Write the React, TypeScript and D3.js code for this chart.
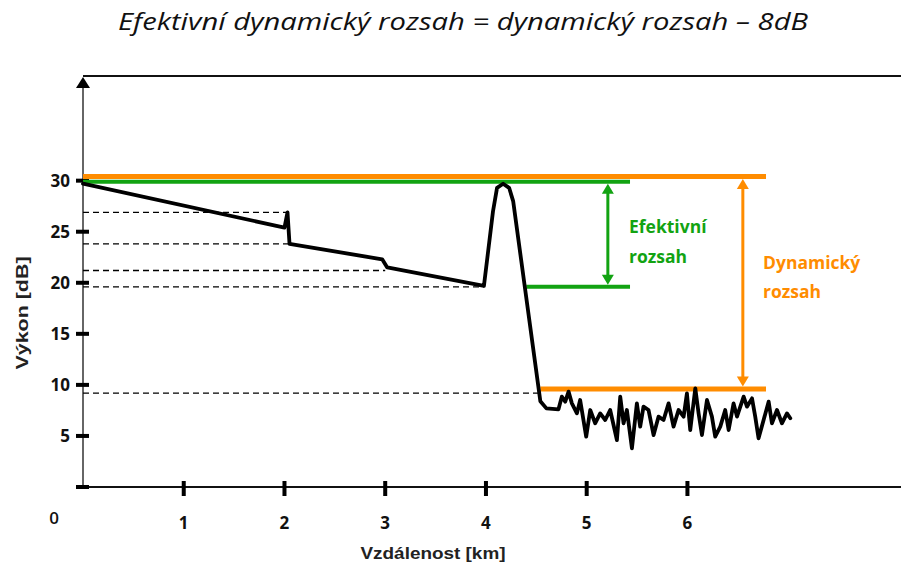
import React from 'react';
import * as d3 from 'd3';

// Trace of the OTDR measurement: distance [km] and power [dB]
const traceKm = [
    0, 2.0, 2.03, 2.05, 2.97, 3.02, 3.98, 4.07, 4.11, 4.17, 4.23, 4.27, 4.54, 4.6,
    4.72, 4.753, 4.787, 4.82, 4.853, 4.903, 4.935, 4.995, 5.035, 5.084, 5.134, 5.184,
    5.233, 5.3, 5.333, 5.366, 5.399, 5.449, 5.498, 5.531, 5.564, 5.614, 5.664, 5.713,
    5.763, 5.813, 5.862, 5.912, 5.962, 5.995, 6.028, 6.078, 6.111, 6.144, 6.194, 6.243,
    6.276, 6.326, 6.375, 6.409, 6.458, 6.492, 6.558, 6.591, 6.641, 6.673, 6.706, 6.756,
    6.806, 6.839, 6.889, 6.938, 6.988, 7.021
];
const traceDb = [
    29.7, 25.4, 26.9, 23.8, 22.3, 21.5, 19.7, 27.0, 29.3, 29.7, 29.3, 28.0, 8.4, 7.7,
    7.61, 8.85, 8.36, 9.34, 8.19, 7.21, 8.52, 4.93, 7.54, 6.24, 7.21, 6.56,
    7.54, 4.6, 8.85, 6.24, 7.54, 3.79, 8.19, 5.91, 7.87, 7.54, 5.09, 6.89,
    6.56, 8.19, 5.91, 7.54, 6.89, 9.17, 5.58, 9.66, 7.21, 5.09, 8.52, 6.89,
    4.93, 5.91, 7.54, 5.58, 8.19, 6.89, 8.85, 7.87, 8.68, 6.89, 4.77, 6.56,
    8.36, 6.24, 7.54, 6.24, 7.21, 6.73
];

// Dashed reference levels and the distance where each one stops
const dashDb = [26.9, 23.8, 21.2, 19.6, 9.2];
const dashEndKm = [2.03, 2.05, 3.0, 3.98, 4.54];

// Range bars
const orangeTopDb = 30.4;
const orangeBottomDb = 9.6;
const greenTopDb = 29.9;
const greenBottomDb = 19.6;
const greenBottomStartKm = 4.4;
const greenEndKm = 5.43;
const orangeBottomStartKm = 4.54;
const orangeEndKm = 6.78;
const greenArrowKm = 5.21;
const orangeArrowKm = 6.55;

const yTicks = [0, 5, 10, 15, 20, 25, 30];
const xTicks = [1, 2, 3, 4, 5, 6];

const titleText = 'Efektivní dynamický rozsah = dynamický rozsah – 8dB';
const xTitle = 'Vzdálenost [km]';
const yTitle = 'Výkon [dB]';
const greenLabel = ['Efektivní', 'rozsah'];
const orangeLabel = ['Dynamický', 'rozsah'];

const GREEN = '#12a312';
const ORANGE = '#ff8c00';

const App: React.FC = () => {
    const width = 901;
    const height = 564;

    const x = d3.scaleLinear().domain([0, 8.12]).range([83, 901]);
    const y = d3.scaleLinear().domain([0, 40.25]).range([487, 76]);

    const line = d3.line<number>()
        .x((_, i) => x(traceKm[i]))
        .y(d => y(d));

    const tickFont = "'Open Sans', 'Noto Sans', sans-serif";
    const titleFont = "'Liberation Sans', Arial, sans-serif";

    const arrow = (cx: number, yTop: number, yBot: number, color: string) => {
        const head = 9;
        const half = 6;
        return (
            <g>
                <line x1={cx} x2={cx} y1={yTop + head} y2={yBot - head}
                    stroke={color} strokeWidth={3} />
                <path d={`M${cx},${yTop} L${cx - half},${yTop + head + 1} L${cx + half},${yTop + head + 1} Z`} fill={color} />
                <path d={`M${cx},${yBot} L${cx - half},${yBot - head - 1} L${cx + half},${yBot - head - 1} Z`} fill={color} />
            </g>
        );
    };

    return (
        <svg width={width} height={height}
            style={{ position: 'absolute', left: 0, top: 0, background: '#ffffff' }}>

            {/* Title */}
            <text x={463} y={30} textAnchor="middle" fontFamily="'Open Sans', 'Noto Sans', sans-serif"
                fontStyle="italic" fontSize={23} fill="#111"
                textLength={690} lengthAdjust="spacingAndGlyphs">
                {titleText}
            </text>

            {/* Frame: top line, y axis with arrow, x axis */}
            <line x1={x(0)} x2={width} y1={y(40.25)} y2={y(40.25)} stroke="#111" strokeWidth={2} />
            <line x1={x(0)} x2={x(0)} y1={86} y2={y(0)} stroke="#333" strokeWidth={1.5} />
            <path d={`M${x(0)},77 L${x(0) - 7},88 L${x(0) + 7},88 Z`} fill="#000" />
            <line x1={x(0)} x2={width} y1={y(0)} y2={y(0)} stroke="#111" strokeWidth={2} />

            {/* Y ticks */}
            {yTicks.map(t => (
                <g key={`yt${t}`}>
                    <rect x={x(0) - 7} y={y(t) - 2} width={13} height={4} fill="#000" />
                    {t > 0 && (
                        <text x={70} y={y(t)} dy="0.36em" textAnchor="end"
                            fontFamily={tickFont} fontWeight={700} fontSize={17} fill="#111">
                            {t}
                        </text>
                    )}
                </g>
            ))}
            <text x={54} y={518} dy="0.36em" textAnchor="middle"
                fontFamily={tickFont} fontWeight={600} fontSize={17} fill="#111">0</text>

            {/* X ticks */}
            {xTicks.map(t => (
                <g key={`xt${t}`}>
                    <rect x={x(t) - 2} y={y(0) - 6} width={4} height={15} fill="#000" />
                    <text x={x(t)} y={523} dy="0.36em" textAnchor="middle"
                        fontFamily={tickFont} fontWeight={700} fontSize={17} fill="#111">
                        {t}
                    </text>
                </g>
            ))}

            {/* Axis titles */}
            <text x={433} y={553} dy="0.36em" textAnchor="middle"
                fontFamily={titleFont} fontWeight={700} fontSize={17} fill="#222"
                textLength={145} lengthAdjust="spacingAndGlyphs">
                {xTitle}
            </text>
            <text transform={`translate(22,313) rotate(-90)`} dy="0.36em" textAnchor="middle"
                fontFamily={titleFont} fontWeight={700} fontSize={17} fill="#222"
                textLength={113} lengthAdjust="spacingAndGlyphs">
                {yTitle}
            </text>

            {/* Dashed reference lines */}
            {dashDb.map((d, i) => (
                <line key={`dash${i}`} x1={x(0)} x2={x(dashEndKm[i])} y1={y(d)} y2={y(d)}
                    stroke="#000" strokeWidth={1.3} strokeDasharray="6,4" />
            ))}

            {/* Range bars */}
            <line x1={x(0)} x2={x(orangeEndKm)} y1={y(orangeTopDb)} y2={y(orangeTopDb)}
                stroke={ORANGE} strokeWidth={5} />
            <line x1={x(0)} x2={x(greenEndKm)} y1={y(greenTopDb)} y2={y(greenTopDb)}
                stroke={GREEN} strokeWidth={4} />
            <line x1={x(greenBottomStartKm)} x2={x(greenEndKm)} y1={y(greenBottomDb)} y2={y(greenBottomDb)}
                stroke={GREEN} strokeWidth={4} />
            <line x1={x(orangeBottomStartKm)} x2={x(orangeEndKm)} y1={y(orangeBottomDb)} y2={y(orangeBottomDb)}
                stroke={ORANGE} strokeWidth={5} />

            {/* Trace */}
            <path d={line(traceDb) || ''} fill="none" stroke="#000" strokeWidth={3.8}
                strokeLinejoin="round" strokeLinecap="round" />

            {/* Arrows */}
            {arrow(x(greenArrowKm), y(greenTopDb) + 2, y(greenBottomDb) - 2, GREEN)}
            {arrow(x(orangeArrowKm), y(orangeTopDb) + 2.5, y(orangeBottomDb) - 2.5, ORANGE)}

            {/* Labels */}
            {greenLabel.map((s, i) => (
                <text key={`gl${i}`} x={629} y={227 + i * 30} dy="0.36em"
                    fontFamily={tickFont} fontWeight={700} fontSize={17.5} fill={GREEN}>
                    {s}
                </text>
            ))}
            {orangeLabel.map((s, i) => (
                <text key={`ol${i}`} x={763} y={263 + i * 29} dy="0.36em"
                    fontFamily={tickFont} fontWeight={700} fontSize={17.5} fill={ORANGE}>
                    {s}
                </text>
            ))}
        </svg>
    );
};

export default App;
